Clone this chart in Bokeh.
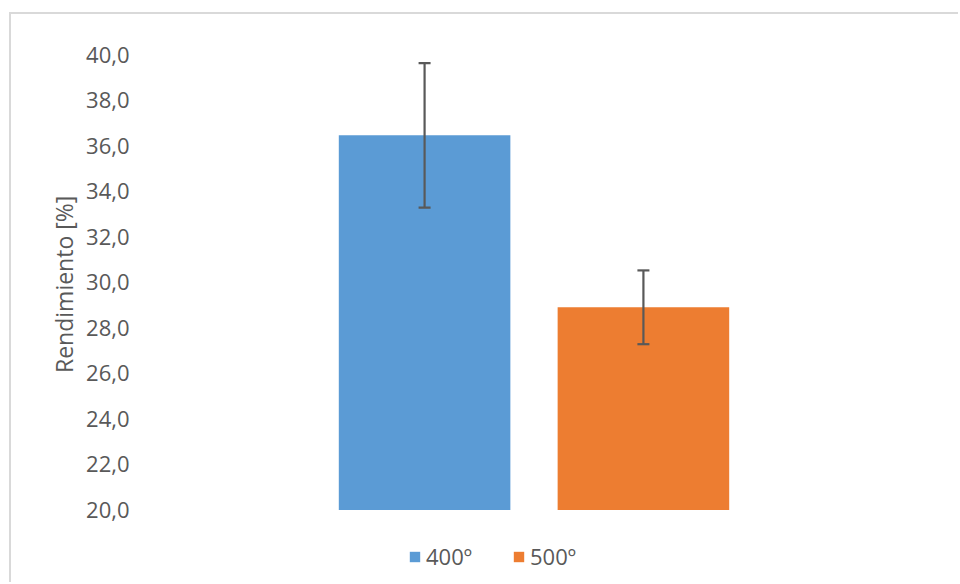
from bokeh.plotting import figure
from bokeh.models import (ColumnDataSource, FactorRange, Range1d, Whisker, TeeHead,
                          Legend, LegendItem, FixedTicker, CustomJSTickFormatter, Title)
from bokeh.embed import file_html
from bokeh.resources import INLINE

series = ["400º", "500º"]
means = [36.45, 28.9]
errors = [3.17, 1.62]
colors = ["#5B9BD5", "#ED7D31"]
y_ticks = [20, 22, 24, 26, 28, 30, 32, 34, 36, 38, 40]
y_label = "Rendimiento [%]"
y_min, y_max = 20, 40

FONT = "Open Sans"
TXT = "#595959"

# layout (canvas pixels)
H, W = 570, 949
TOP_PX, BASE_PX = 40, 495.5
px_per_unit = (BASE_PX - TOP_PX) / (y_max - y_min)
range_bottom = y_min - (H - BASE_PX) / px_per_unit

src = ColumnDataSource(dict(
    x=series, top=means,
    upper=[m + e for m, e in zip(means, errors)],
    lower=[m - e for m, e in zip(means, errors)],
    color=colors,
))

p = figure(width=W, height=H, output_backend="svg", toolbar_location=None,
           x_range=FactorRange(factors=series, range_padding=0.821),
           y_range=Range1d(range_bottom, y_max),
           min_border_left=124, min_border_right=28, min_border_top=TOP_PX, min_border_bottom=0)

p.margin = (12, 0, 0, 9)
p.styles = {"border-left": "2px solid #D9D9D9", "border-top": "2px solid #D9D9D9"}

p.background_fill_color = "white"
p.border_fill_color = "white"
p.outline_line_color = None
p.xgrid.visible = False
p.ygrid.visible = False
p.xaxis.visible = False

bars = p.vbar(x="x", top="top", bottom=y_min, width=0.784, color="color", source=src, line_color=None)

w = Whisker(base="x", upper="upper", lower="lower", source=src, level="overlay",
            line_color="#595959", line_width=2.2,
            upper_head=TeeHead(size=12, line_color="#595959", line_width=2.2),
            lower_head=TeeHead(size=12, line_color="#595959", line_width=2.2))
p.add_layout(w)

ax = p.yaxis[0]
ax.ticker = FixedTicker(ticks=y_ticks)
ax.formatter = CustomJSTickFormatter(code="return tick.toFixed(1).replace('.', ',');")
ax.axis_line_color = None
ax.major_tick_line_color = None
ax.minor_tick_line_color = None
ax.major_tick_out = 0
ax.major_label_standoff = 6
ax.major_label_text_font = FONT
ax.major_label_text_font_size = "22px"
ax.major_label_text_color = TXT

# y-axis title, centred on the 20-40 span (frame extends below for the legend)
ytitle = Title(text=y_label, align="left", offset=H - BASE_PX + 137,
               text_font=FONT, text_font_size="23px", text_font_style="normal",
               text_color=TXT, standoff=7)
p.add_layout(ytitle, "left")

items = [LegendItem(label=s, renderers=[bars], index=i) for i, s in enumerate(series)]
legend = Legend(items=items, orientation="horizontal", location=(273, 13),
                glyph_width=13, glyph_height=13, label_text_font=FONT,
                label_text_font_size="22px", label_text_color=TXT,
                spacing=40, padding=0, margin=0, label_standoff=5,
                border_line_color=None, background_fill_alpha=0)
p.add_layout(legend, "center")

open("out.html", "w").write(file_html(p, INLINE))
